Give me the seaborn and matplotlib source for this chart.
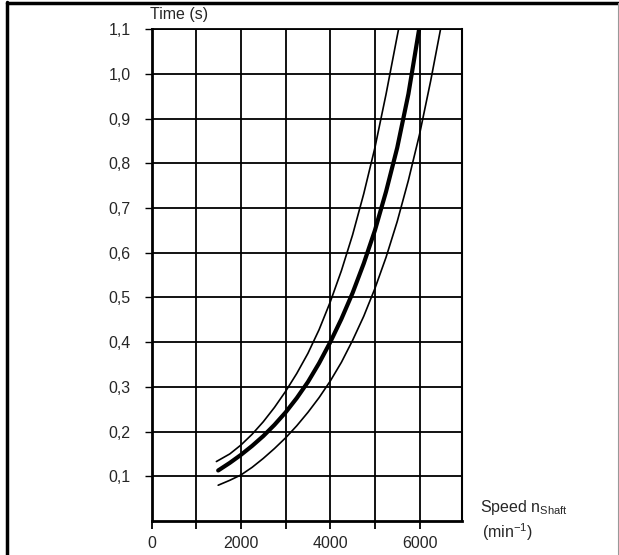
import matplotlib
matplotlib.use("Agg")
import matplotlib.pyplot as plt
from matplotlib.lines import Line2D
import seaborn as sns
import pandas as pd

# ── data ───────────────────────────────────────────────────────────────────────
upper_speed = [1450, 1750, 2000, 2250, 2500, 2750, 3000, 3250, 3500, 3750, 4000,
               4250, 4500, 4750, 5000, 5250, 5500, 5530]
upper_time  = [0.133, 0.150, 0.170, 0.194, 0.222, 0.254, 0.290, 0.330, 0.375, 0.428,
               0.490, 0.560, 0.640, 0.732, 0.835, 0.955, 1.085, 1.100]

mid_speed = [1490, 1750, 2000, 2250, 2500, 2750, 3000, 3250, 3500, 3750, 4000,
             4250, 4500, 4750, 5000, 5250, 5500, 5750, 5990]
mid_time  = [0.113, 0.130, 0.148, 0.168, 0.190, 0.215, 0.243, 0.275, 0.311, 0.353,
             0.400, 0.452, 0.510, 0.576, 0.650, 0.737, 0.835, 0.955, 1.100]

lower_speed = [1490, 1750, 2000, 2250, 2500, 2750, 3000, 3250, 3500, 3750, 4000,
               4250, 4500, 4750, 5000, 5250, 5500, 5750, 6000, 6250, 6470]
lower_time  = [0.080, 0.091, 0.103, 0.120, 0.140, 0.162, 0.186, 0.213, 0.243, 0.276,
               0.313, 0.355, 0.404, 0.458, 0.520, 0.590, 0.670, 0.762, 0.865, 0.985, 1.100]

x_ticks = [0, 2000, 4000, 6000]
x_tick_labels = ["0", "2000", "4000", "6000"]
x_minor = [1000, 3000, 5000]
y_ticks = [0.1, 0.2, 0.3, 0.4, 0.5, 0.6, 0.7, 0.8, 0.9, 1.0, 1.1]
y_tick_labels = ["0,1", "0,2", "0,3", "0,4", "0,5", "0,6", "0,7", "0,8", "0,9", "1,0", "1,1"]

curves = pd.concat([
    pd.DataFrame({"speed": upper_speed, "time": upper_time, "curve": "upper"}),
    pd.DataFrame({"speed": mid_speed, "time": mid_time, "curve": "mid"}),
    pd.DataFrame({"speed": lower_speed, "time": lower_time, "curve": "lower"}),
])

sns.set_style("white")
plt.rcParams["font.family"] = ["Liberation Sans", "DejaVu Sans"]

fig = plt.figure(figsize=(6.19, 5.55), dpi=100)
ax = fig.add_axes([0.245, 0.0613, 0.5013, 0.8859])

widths = {"upper": 1.2, "mid": 3.0, "lower": 1.2}
for name, grp in curves.groupby("curve"):
    sns.lineplot(data=grp, x="speed", y="time", sort=False, color="black",
                 lw=widths[name], ax=ax, legend=False)

ax.set_xlim(0, 6950)
ax.set_ylim(0, 1.1)
ax.set_xticks(x_ticks)
ax.set_xticklabels(x_tick_labels, fontsize=11.5)
ax.set_xticks(x_minor, minor=True)
ax.set_yticks(y_ticks)
ax.set_yticklabels(y_tick_labels, fontsize=11.5)
ax.set_xlabel("")
ax.set_ylabel("")

ax.grid(True, which="both", color="black", lw=1.3)
ax.tick_params(axis="x", which="both", direction="out", length=6, width=1.3,
               color="black", pad=5, bottom=True)
ax.tick_params(axis="y", direction="out", length=5, width=1.0, color="black",
               pad=10, left=True)
for side, lw in [("left", 2.0), ("bottom", 2.0), ("right", 1.5), ("top", 1.3)]:
    ax.spines[side].set_visible(True)
    ax.spines[side].set_color("black")
    ax.spines[side].set_linewidth(lw)

fig.text(0.243, 0.960, "Time (s)", fontsize=11.5, ha="left", va="bottom")
fig.text(0.775, 0.085, r"Speed n$_{\mathregular{Shaft}}$", fontsize=11.5,
         ha="left", va="center")
fig.text(0.778, 0.041, r"(min$^{\mathregular{-1}}$)", fontsize=11.5,
         ha="left", va="center")

# outer frame of the scanned page
fig.add_artist(Line2D([0.011, 0.011], [0.0, 0.997], color="black", lw=2.5))
fig.add_artist(Line2D([0.011, 1.0], [0.995, 0.995], color="black", lw=2.5))
fig.add_artist(Line2D([0.998, 0.998], [0.0, 0.995], color="0.6", lw=0.8))

fig.savefig("out.png", dpi=100)
